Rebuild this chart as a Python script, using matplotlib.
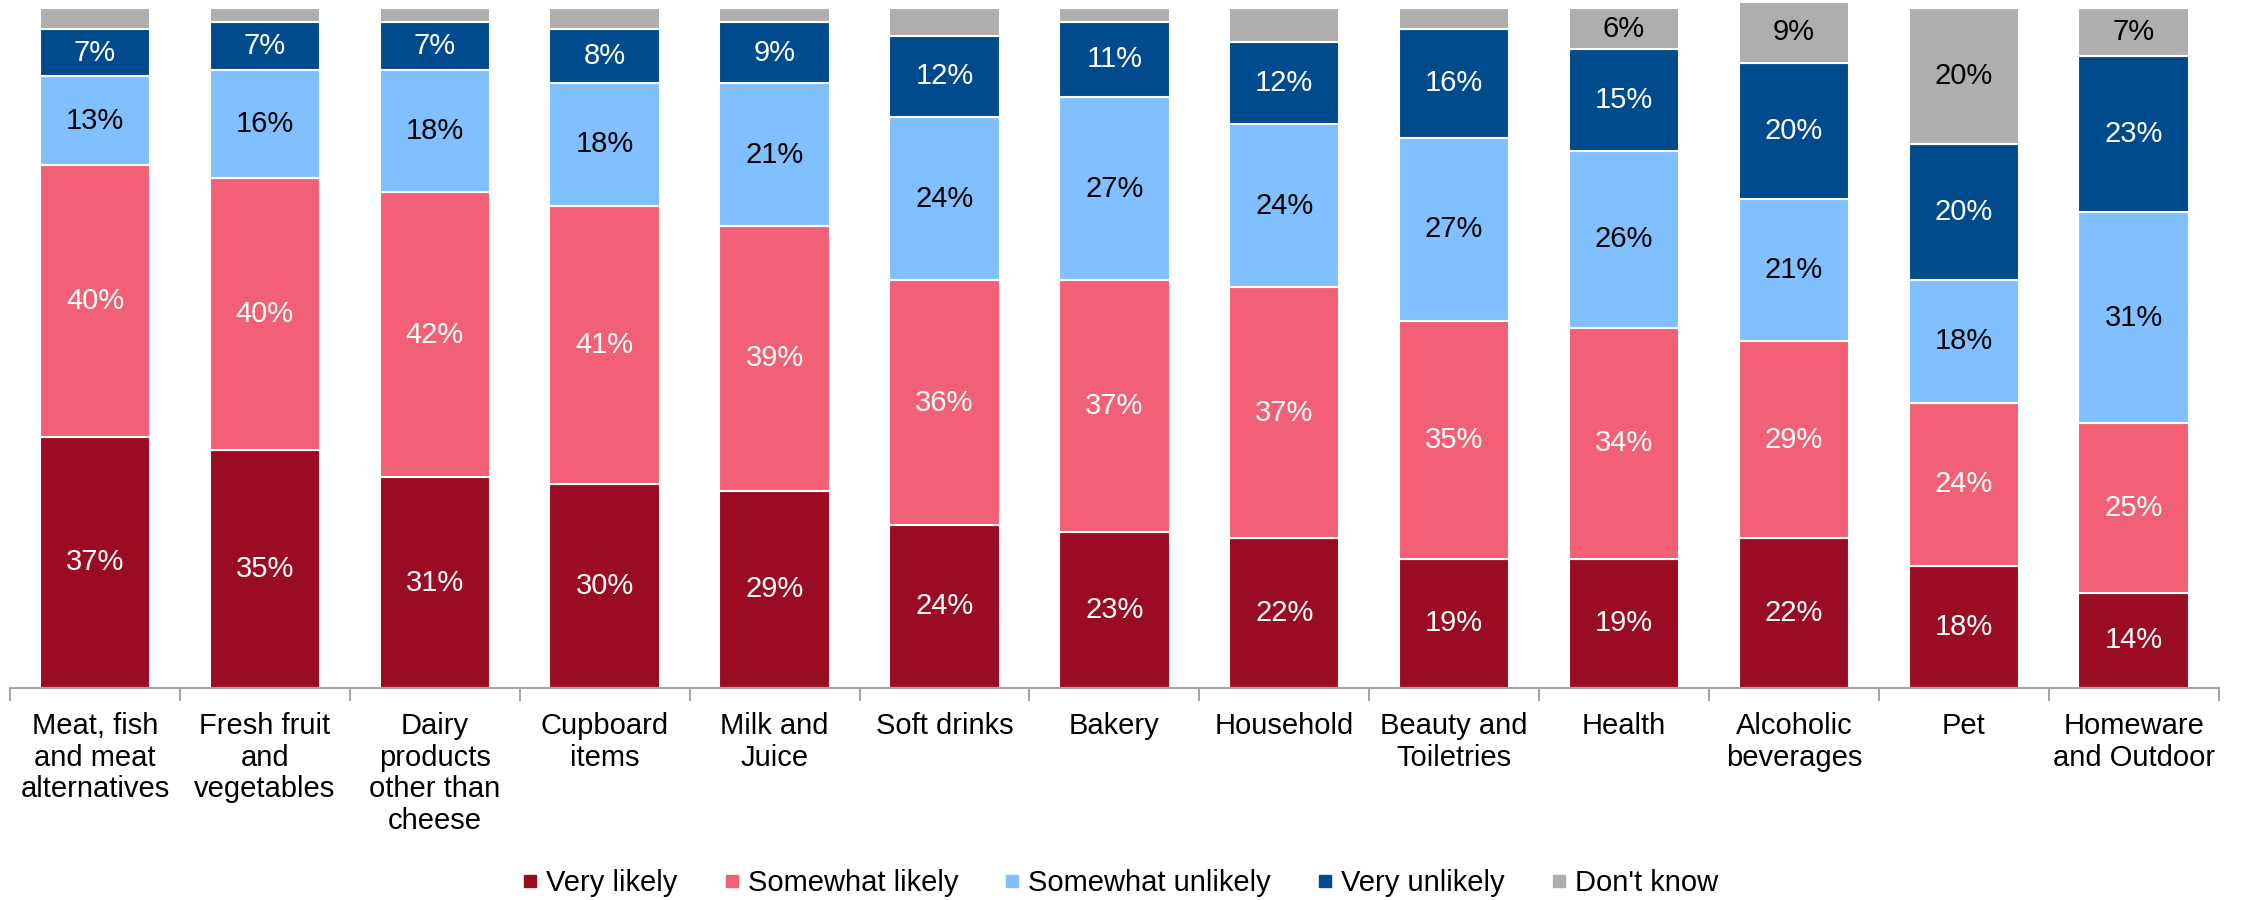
import matplotlib.pyplot as plt
import numpy as np
from matplotlib.lines import Line2D

plt.rcParams['font.family'] = ['Liberation Sans', 'DejaVu Sans']

categories = ['Meat, fish\nand meat\nalternatives', 'Fresh fruit\nand\nvegetables',
              'Dairy\nproducts\nother than\ncheese', 'Cupboard\nitems', 'Milk and\nJuice',
              'Soft drinks', 'Bakery', 'Household', 'Beauty and\nToiletries', 'Health',
              'Alcoholic\nbeverages', 'Pet', 'Homeware\nand Outdoor']

very_likely = [37, 35, 31, 30, 29, 24, 23, 22, 19, 19, 22, 18, 14]
somewhat_likely = [40, 40, 42, 41, 39, 36, 37, 37, 35, 34, 29, 24, 25]
somewhat_unlikely = [13, 16, 18, 18, 21, 24, 27, 24, 27, 26, 21, 18, 31]
very_unlikely = [7, 7, 7, 8, 9, 12, 11, 12, 16, 15, 20, 20, 23]
dont_know = [3, 2, 2, 3, 2, 4, 2, 5, 3, 6, 9, 20, 7]
# small "don't know" shares are left unlabelled
dk_labelled = [False] * 9 + [True] * 4

series = [
    ('Very likely', very_likely, '#990C22', 'white'),
    ('Somewhat likely', somewhat_likely, '#F26076', 'white'),
    ('Somewhat unlikely', somewhat_unlikely, '#80C0FF', 'black'),
    ('Very unlikely', very_unlikely, '#004B8D', 'white'),
    ("Don't know", dont_know, '#AEAEAE', 'black'),
]

FS = 21

fig = plt.figure(figsize=(22.41, 9), dpi=100)
ax = fig.add_axes([0.0045, 0.2356, 0.9855, 0.755])

x = np.arange(len(categories))
bottom = np.zeros(len(categories))
handles = []
for name, vals, color, tcol in series:
    vals = np.array(vals, dtype=float)
    ax.bar(x, vals, 0.65, bottom=bottom, color=color, edgecolor='white', linewidth=1.5,
           clip_on=False)
    for i, v in enumerate(vals):
        if name == "Don't know" and not dk_labelled[i]:
            continue
        ax.text(x[i], bottom[i] + v / 2, f'{v:.0f}%', ha='center', va='center',
                color=tcol, fontsize=FS)
    bottom += vals
    handles.append(Line2D([], [], marker='s', linestyle='', color=color, markersize=8, label=name))

ax.set_xlim(-0.5, len(categories) - 0.5)
ax.set_ylim(0, 100)
ax.set_yticks([])
for s in ['top', 'right', 'left']:
    ax.spines[s].set_visible(False)
ax.spines['bottom'].set_color('#A6A6A6')
ax.spines['bottom'].set_linewidth(1.5)
ax.set_xticks(x)
ax.set_xticklabels(categories, fontsize=FS, linespacing=1.18, va='top')
ax.tick_params(axis='x', which='major', length=0, pad=17)
ax.set_xticks(np.arange(-0.5, len(categories)), minor=True)
ax.tick_params(axis='x', which='minor', length=9, width=1.5, color='#A6A6A6')

fig.legend(handles=handles, loc='center', bbox_to_anchor=(0.5, 0.019), ncol=5, frameon=False,
           fontsize=FS, handlelength=0.5, handletextpad=0.3, columnspacing=1.6)

plt.savefig('out.png', dpi=100)
